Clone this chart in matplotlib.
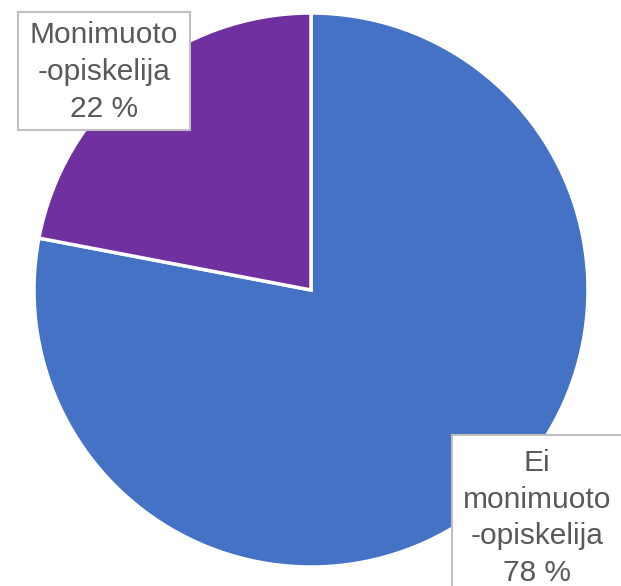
import matplotlib
matplotlib.use("Agg")
import matplotlib.pyplot as plt
from matplotlib.patches import Rectangle

labels = ["Ei\nmonimuoto\n-opiskelija", "Monimuoto\n-opiskelija"]
values = [78, 22]
colors = ["#4472C4", "#7030A0"]

fig = plt.figure(figsize=(6.21, 5.86), dpi=100)
ax = fig.add_axes([0, 0, 1, 1])

ax.pie(values, colors=colors, startangle=90, counterclock=False,
       center=(311, 296), radius=277,
       wedgeprops=dict(edgecolor="white", linewidth=2.5))
ax.set_xlim(0, 621)
ax.set_ylim(0, 586)
ax.set_aspect("equal")
ax.axis("off")

txt = dict(ha="center", va="center", color="#595959", fontsize=21.5,
           family="Liberation Sans", linespacing=1.4)

# label boxes
ax.add_patch(Rectangle((18, 586 - 130), 172, 118, facecolor="white",
                       edgecolor="#BFBFBF", linewidth=1.5, zorder=3))
ax.text(104, 586 - 72, f"{labels[1]}\n{values[1]} %", zorder=4, **txt)

ax.add_patch(Rectangle((452, -10), 180, 586 - 435 + 10, facecolor="white",
                       edgecolor="#BFBFBF", linewidth=1.5, zorder=3))
ax.text(537, 586 - 518, f"{labels[0]}\n{values[0]} %", zorder=4, **txt)

fig.savefig("out.png", dpi=100)
